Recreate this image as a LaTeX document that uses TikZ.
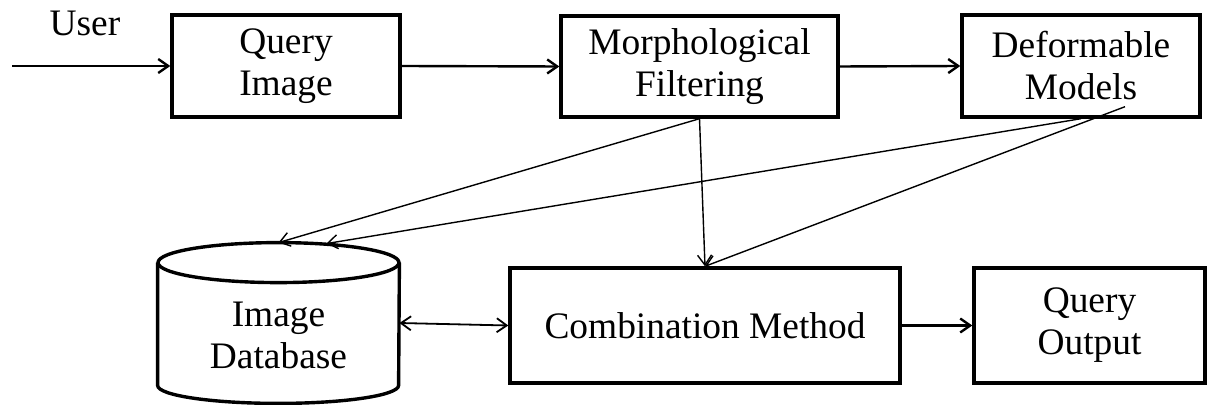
\documentclass[tikz,border=0pt]{standalone}
\usepackage{fontspec}
\setmainfont{Liberation Serif}
\usetikzlibrary{positioning, shapes.geometric, arrows.meta, calc}

\begin{document}
\begin{tikzpicture}[
    x=0.5pt, y=-0.5pt, % one unit is one pixel of the layout
    font=\fontsize{18.7}{21}\selectfont,
    arrow/.style={
        -{Straight Barb[length=5pt,width=7pt]},
        line width=1.2pt
    },
    thin arrow/.style={
        -{Straight Barb[length=5pt,width=7pt]},
        line width=0.7pt
    },
    both arrow/.style={
        {Straight Barb[length=5pt,width=7pt]}-{Straight Barb[length=5pt,width=7pt]},
        line width=0.9pt
    },
    block/.style={
        rectangle,
        draw,
        line width=1.7pt,
        align=center,
        inner sep=0pt
    },
    database/.style={
        rectangle,
        inner sep=0pt
    },
    dbline/.style={
        draw,
        line width=1.7pt
    }
]
    \useasboundingbox (0,0) rectangle (1208,405);

    % Top row
    \node (user) at (85,23) {User};
    \coordinate (start) at (12,66);
    \node[block, minimum width=114pt, minimum height=51pt] (query) at (286,66) {Query\\Image};
    \node[block, minimum width=138.5pt, minimum height=50.5pt] (morph) at (699.5,66.5) {Morphological\\Filtering};
    \node[block, minimum width=119pt, minimum height=51pt] (deform) at (1081,66) {Deformable\\Models};

    % Bottom row
    \node[database, minimum width=120.5pt, minimum height=80pt] (db) at (278.5,323)
        {\raisebox{-8pt}[\height][\depth]{\begin{tabular}{@{}c@{}}Image\\Database\end{tabular}}};
    \node[block, minimum width=195pt, minimum height=57.5pt] (comb) at (705,325.5) {Combination Method};
    \node[block, minimum width=115.5pt, minimum height=57.5pt] (qout) at (1089.5,325.5) {Query\\Output};

    % Database outline
    \draw[dbline] ($(db.north)+(0,20)$) ellipse [x radius=120.5, y radius=20];
    \draw[dbline] ($(db.north west)+(0,20)$) -- ($(db.south west)+(0,-18)$)
        arc[start angle=180, end angle=0, x radius=120.5, y radius=18] -- ($(db.north east)+(0,20)$);

    % Extra ends
    \coordinate (dbin) at ($(db.north)+(48,1)$);
    \coordinate (dmod) at ($(deform.south)+(44,-12)$);

    \draw[arrow] (start) -- (query.west);
    \draw[arrow] (query.east) -- (morph.west);
    \draw[arrow] (morph.east) -- (deform.west);

    \draw[thin arrow] (morph.south) -- (db.north);
    \draw[thin arrow] (morph.south) -- (comb.north);
    \draw[thin arrow] (deform.south) -- (dbin);
    \draw[thin arrow] (dmod) -- (comb.north);

    \draw[both arrow] (db.east) -- (comb.west);
    \draw[arrow] (comb.east) -- (qout.west);
\end{tikzpicture}
\end{document}
